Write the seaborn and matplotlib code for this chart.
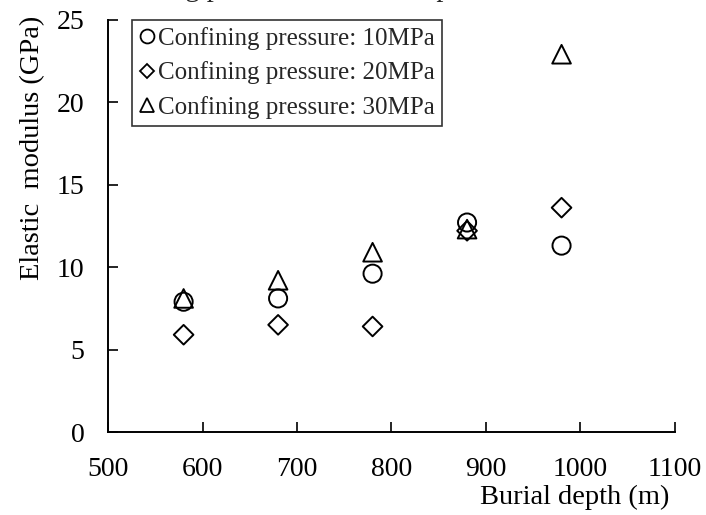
import matplotlib
matplotlib.use("Agg")
import matplotlib.pyplot as plt
import seaborn as sns
import pandas as pd
from matplotlib.lines import Line2D

depth = [580, 680, 780, 880, 980]
mod_10 = [7.9, 8.1, 9.6, 12.7, 11.3]
mod_20 = [5.9, 6.5, 6.4, 12.2, 13.6]
mod_30 = [8.1, 9.2, 10.9, 12.3, 22.9]
labels = ["Confining pressure: 10MPa", "Confining pressure: 20MPa", "Confining pressure: 30MPa"]
markers = ["o", "D", "^"]
sizes = [170, 100, 180]

sns.set_theme(style="ticks")
plt.rcParams['font.family'] = ['Liberation Serif', 'DejaVu Serif']

fig = plt.figure(figsize=(7.06, 5.15), dpi=100)
ax = fig.add_axes([0.153, 0.161, 0.803, 0.801])

series = [mod_10, mod_20, mod_30]
for vals, lab, mk, sz in zip(series, labels, markers, sizes):
    df = pd.DataFrame({"depth": depth, "mod": vals})
    sns.scatterplot(data=df, x="depth", y="mod", marker=mk, s=sz, facecolor="none",
                    edgecolor="black", linewidth=1.4, ax=ax, zorder=3)

ax.set_xlim(500, 1100)
ax.set_ylim(0, 25)
ax.set_xticks([500, 600, 700, 800, 900, 1000, 1100])
ax.set_yticks([0, 5, 10, 15, 20, 25])
ax.tick_params(direction="in", length=7, width=1.2, labelsize=20, colors="black")
ax.tick_params(axis="x", pad=18)
ax.tick_params(axis="y", pad=17)
for side in ["top", "right"]:
    ax.spines[side].set_visible(False)
for side in ["left", "bottom"]:
    ax.spines[side].set_linewidth(1.4)
    ax.spines[side].set_color("black")

ax.set_xlabel("Burial depth (m)", fontsize=20.5, color="black")
ax.set_ylabel("Elastic  modulus (GPa)", fontsize=20.5, color="black")
ax.xaxis.set_label_coords(0.824, -0.128)
ax.yaxis.set_label_coords(-0.111, 0.69)

handles = [Line2D([], [], linestyle="none", marker=m, markersize=ms, markerfacecolor="none",
                  markeredgecolor="black", markeredgewidth=1.3)
           for m, ms in zip(markers, [10, 7, 10])]
leg = ax.legend(handles, labels, loc="upper left", bbox_to_anchor=(0.042, 1.0),
                fontsize=18, frameon=True, fancybox=False, edgecolor="black",
                handlelength=0.6, handletextpad=0.15, borderpad=0.3, labelspacing=0.45,
                borderaxespad=0.0)
leg.get_frame().set_linewidth(1.2)

fig.text(84 / 706, 1.007, "Confining pressure and elastic parameters", fontsize=20.5,
         va="baseline", ha="left")

fig.savefig("out.png", dpi=100)
